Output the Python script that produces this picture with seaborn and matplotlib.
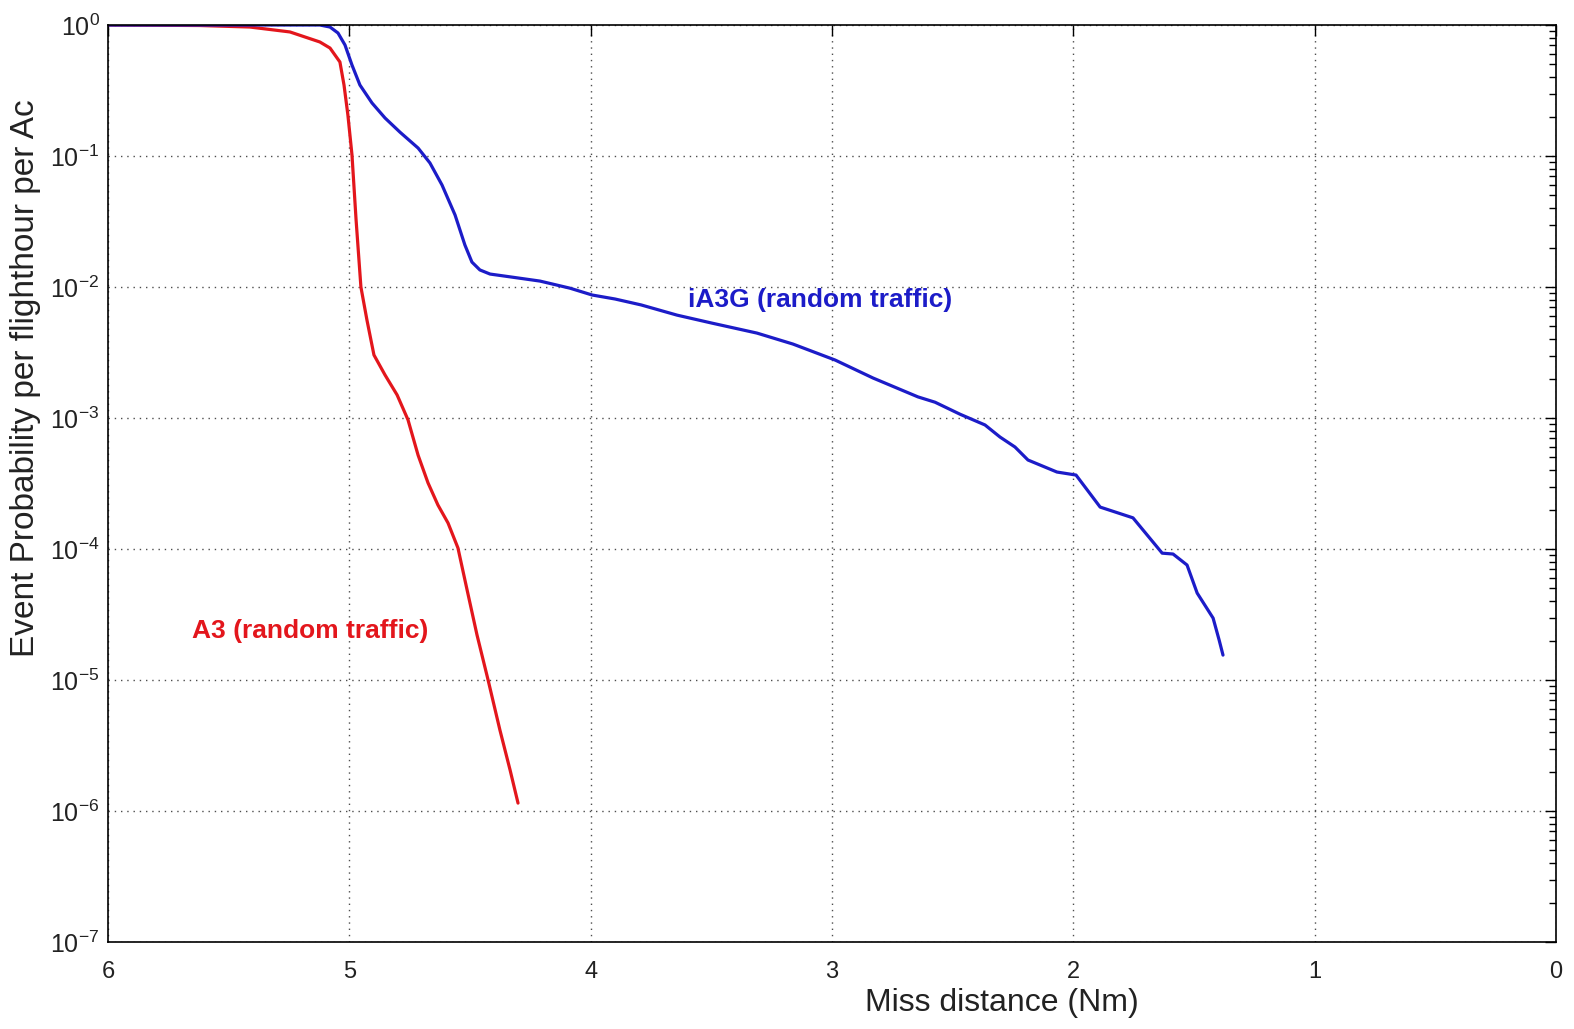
import numpy as np
import pandas as pd
import matplotlib
matplotlib.use("Agg")
import matplotlib.pyplot as plt
from matplotlib.ticker import LogLocator, NullFormatter, FixedLocator
import seaborn as sns

# ---- data ----
a3_dist = [6.0, 5.619, 5.412, 5.246, 5.122, 5.080, 5.039, 5.022, 5.006, 4.989,
           4.972, 4.952, 4.927, 4.898, 4.852, 4.802, 4.757, 4.715, 4.674, 4.633,
           4.591, 4.550, 4.512, 4.471, 4.425, 4.376, 4.334, 4.301]
a3_prob = [1.0, 0.991, 0.965, 0.885, 0.742, 0.667, 0.522, 0.348, 0.206, 0.102,
           0.0325, 0.010, 0.0056, 0.00303, 0.00213, 0.0015, 0.00097, 0.00052,
           0.00032, 0.000217, 0.000158, 0.000102, 4.87e-5, 2.21e-5, 1.0e-5,
           4.15e-6, 2.06e-6, 1.15e-6]

ia3g_dist = [6.0, 5.122, 5.080, 5.047, 5.018, 4.989, 4.956, 4.906, 4.852, 4.790,
             4.715, 4.666, 4.616, 4.562, 4.521, 4.492, 4.459, 4.417, 4.326, 4.210,
             4.086, 3.994, 3.899, 3.791, 3.642, 3.497, 3.311, 3.162, 2.987, 2.830,
             2.644, 2.573, 2.470, 2.366, 2.304, 2.242, 2.188, 2.068, 1.989, 1.889,
             1.753, 1.632, 1.587, 1.529, 1.487, 1.421, 1.396, 1.380]
ia3g_prob = [1.0, 1.0, 0.965, 0.869, 0.704, 0.495, 0.348, 0.254, 0.195, 0.152,
             0.115, 0.0885, 0.0601, 0.0355, 0.0209, 0.0155, 0.0135, 0.01256,
             0.0119, 0.0111, 0.0098, 0.00869, 0.0081, 0.0073, 0.0061, 0.0053,
             0.00445, 0.00367, 0.00277, 0.00202, 0.00145, 0.00132, 0.00107,
             0.000885, 0.000716, 0.000601, 0.000478, 0.000387, 0.000367,
             0.000209, 0.000173, 9.3e-5, 9.16e-5, 7.55e-5, 4.61e-5, 2.97e-5,
             2.02e-5, 1.55e-5]

series_labels = ["A3 (random traffic)", "iA3G (random traffic)"]
x_ticks = [6, 5, 4, 3, 2, 1, 0]
y_ticks = [1e-7, 1e-6, 1e-5, 1e-4, 1e-3, 1e-2, 1e-1, 1e0]
x_label = "Miss distance (Nm)"
y_label = "Event Probability per flighthour per Ac"

# ---- styling ----
sns.set_theme(style="white")
plt.rcParams["font.family"] = ["Liberation Sans", "DejaVu Sans"]
plt.rcParams["mathtext.fontset"] = "custom"
plt.rcParams["mathtext.rm"] = "Liberation Sans"
plt.rcParams["mathtext.it"] = "Liberation Sans:italic"
plt.rcParams["mathtext.bf"] = "Liberation Sans:bold"

RED = "#e3161c"
BLUE = "#1c1cc8"

fig = plt.figure(figsize=(15.74, 10.29), dpi=100)
ax = fig.add_axes([0.0686, 0.0845, 0.92, 0.8912])

df_a3 = pd.DataFrame({"dist": a3_dist, "prob": a3_prob})
df_ia = pd.DataFrame({"dist": ia3g_dist, "prob": ia3g_prob})

sns.lineplot(data=df_a3, x="dist", y="prob", ax=ax, color=RED, lw=2.3,
             sort=False, estimator=None)
sns.lineplot(data=df_ia, x="dist", y="prob", ax=ax, color=BLUE, lw=2.3,
             sort=False, estimator=None)

ax.set_yscale("log")
ax.set_xlim(6, 0)
ax.set_ylim(1e-7, 1e0)
ax.xaxis.set_major_locator(FixedLocator(x_ticks))
ax.yaxis.set_major_locator(FixedLocator(y_ticks))
ax.yaxis.set_minor_locator(LogLocator(base=10, subs=np.arange(2, 10), numticks=100))
ax.yaxis.set_minor_formatter(NullFormatter())

ax.grid(True, which="major", color="0.3", linestyle=(0, (1, 3.5)), linewidth=1.0)
ax.tick_params(which="both", direction="in", top=True, right=True,
               colors="black", labelcolor="#222222")
ax.tick_params(which="major", length=8, width=1.0)
ax.tick_params(axis="y", which="major", labelsize=18, pad=6)
ax.tick_params(axis="x", which="major", labelsize=17, pad=14)
ax.tick_params(which="minor", length=5, width=1.0)
for s in ax.spines.values():
    s.set_color("black")
    s.set_linewidth(1.2)

ax.set_xlabel(x_label, fontsize=23, color="#222222")
ax.set_ylabel(y_label, fontsize=24, color="#222222")
ax.xaxis.set_label_coords(0.617, -0.05)
ax.yaxis.set_label_coords(-0.046, 0.615)

ax.text(3.597, 0.00796, series_labels[1], color=BLUE, fontsize=19,
        fontweight="bold", ha="left", va="center")
ax.text(5.652, 2.35e-5, series_labels[0], color=RED, fontsize=19,
        fontweight="bold", ha="left", va="center")

fig.savefig("out.png", dpi=100)
